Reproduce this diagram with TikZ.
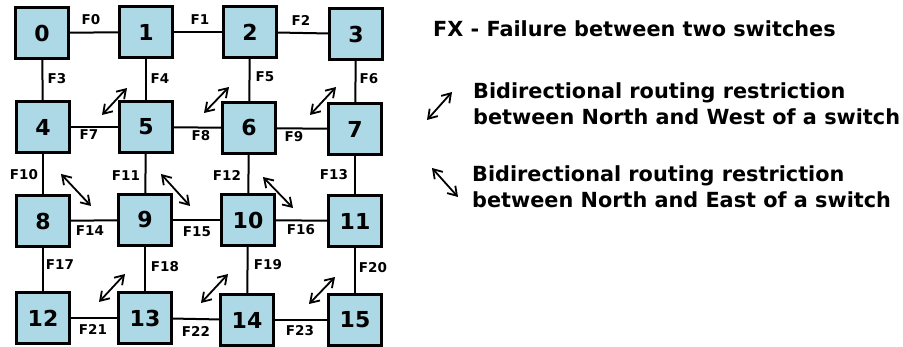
\documentclass[tikz,border=0pt]{standalone}
\usepackage{fontspec}
\setmainfont{DejaVu Sans}
\usetikzlibrary{arrows.meta}
\definecolor{swfill}{RGB}{173,216,230}
\begin{document}
\begin{tikzpicture}[x=1pt,y=-1pt,
  switch/.style={draw=black,line width=2.2pt,fill=swfill,minimum width=53pt,minimum height=51pt,inner sep=0pt,
    font=\fontsize{22}{26}\selectfont\bfseries},
  link/.style={line width=2pt},
  flab/.style={font=\fontsize{13.5}{15}\selectfont\bfseries,inner sep=0pt},
  restr/.style={line width=1.8pt,{Straight Barb[length=8.5pt,width=11pt]}-{Straight Barb[length=8.5pt,width=11pt]}},
  legtxt/.style={font=\fontsize{20.8}{26}\selectfont\bfseries,inner sep=0pt,anchor=west,align=left}]
\useasboundingbox (0,0) rectangle (903,347);
% links are drawn first so the switches cover their ends
\path (42,33) coordinate (p0) (146,32) coordinate (p1) (250,32) coordinate (p2) (356,34) coordinate (p3)
      (43,127) coordinate (p4) (146,127) coordinate (p5) (249,128) coordinate (p6) (355,129) coordinate (p7)
      (43,221) coordinate (p8) (145,220) coordinate (p9) (248,220) coordinate (p10) (355,221) coordinate (p11)
      (43,318) coordinate (p12) (145,318) coordinate (p13) (247,320) coordinate (p14) (355,320) coordinate (p15);
\foreach \a/\b in {0/1,1/2,2/3,4/5,5/6,6/7,8/9,9/10,10/11,12/13,13/14,14/15,
                   0/4,1/5,2/6,3/7,4/8,5/9,6/10,7/11,8/12,9/13,10/14,11/15}
  \draw[link] (p\a) -- (p\b);
% switches
\foreach \i in {0,...,15}
  \node[switch] (n\i) at (p\i) {\i};
% failure labels
\node[flab] (f0) at (91,20) {F0};
\node[flab] (f1) at (200,20) {F1};
\node[flab] (f2) at (301,20) {F2};
\node[flab] (f3) at (57,79) {F3};
\node[flab] (f4) at (160,79) {F4};
\node[flab] (f5) at (265,77) {F5};
\node[flab] (f6) at (369,79) {F6};
\node[flab] (f7) at (89,135) {F7};
\node[flab] (f8) at (201,136) {F8};
\node[flab] (f9) at (294,137) {F9};
\node[flab] (f10) at (24,175) {F10};
\node[flab] (f11) at (126,176) {F11};
\node[flab] (f12) at (227,175) {F12};
\node[flab] (f13) at (334,175) {F13};
\node[flab] (f14) at (90,231) {F14};
\node[flab] (f15) at (197,232) {F15};
\node[flab] (f16) at (301,230) {F16};
\node[flab] (f17) at (60,265) {F17};
\node[flab] (f18) at (165,267) {F18};
\node[flab] (f19) at (268,265) {F19};
\node[flab] (f20) at (373,268) {F20};
\node[flab] (f21) at (93,329) {F21};
\node[flab] (f22) at (196,331) {F22};
\node[flab] (f23) at (300,331) {F23};
% North-West restrictions
\coordinate (a1s) at (102,115); \coordinate (a1e) at (127,88);
\coordinate (a2s) at (204,113); \coordinate (a2e) at (229,87);
\coordinate (a3s) at (310,115); \coordinate (a3e) at (336,87);
\coordinate (a4s) at (99,302);  \coordinate (a4e) at (125,274);
\coordinate (a5s) at (201,303); \coordinate (a5e) at (228,274);
\coordinate (a6s) at (309,304); \coordinate (a6e) at (335,277);
% North-East restrictions
\coordinate (b1s) at (61,174);  \coordinate (b1e) at (91,206);
\coordinate (b2s) at (161,174); \coordinate (b2e) at (190,206);
\coordinate (b3s) at (263,177); \coordinate (b3e) at (293,208);
\foreach \k in {1,...,6} \draw[restr] (a\k s) -- (a\k e);
\foreach \k in {1,2,3} \draw[restr] (b\k s) -- (b\k e);
% legend
\node[legtxt] (leg0) at (433,29) {FX - Failure between two switches};
\coordinate (lw1) at (427,120); \coordinate (lw2) at (452,92);
\draw[restr] (lw1) -- (lw2);
\node[legtxt] (leg1) at (473,104) {Bidirectional routing restriction\\between North and West of a switch};
\coordinate (le1) at (432,168); \coordinate (le2) at (458,197);
\draw[restr] (le1) -- (le2);
\node[legtxt] (leg2) at (472,187) {Bidirectional routing restriction\\between North and East of a switch};
\end{tikzpicture}
\end{document}
